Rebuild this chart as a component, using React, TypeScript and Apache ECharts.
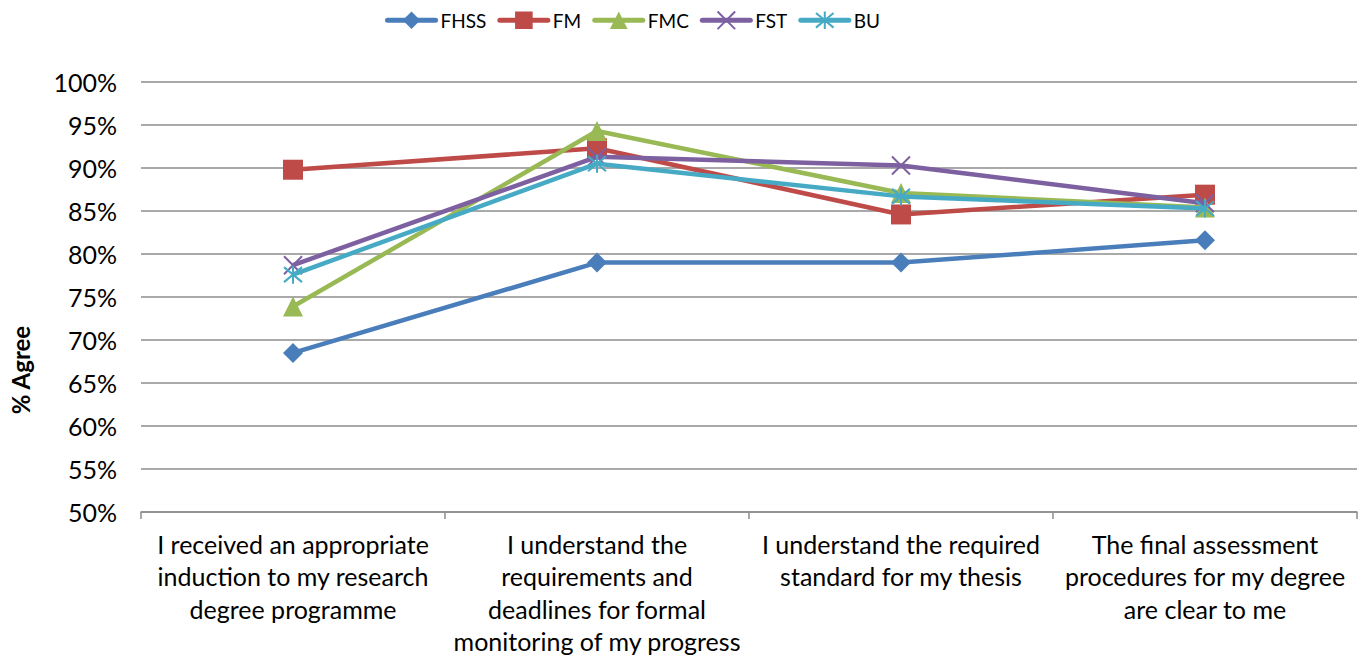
import React, { useEffect, useRef } from "react";
import * as echarts from "echarts";

const categories = [
  "I received an appropriate\ninduction to my research\ndegree programme",
  "I understand the\nrequirements and\ndeadlines for formal\nmonitoring of my progress",
  "I understand the required\nstandard for my thesis",
  "The final assessment\nprocedures for my degree\nare clear to me",
];

const seriesNames = ["FHSS", "FM", "FMC", "FST", "BU"];
const fhss = [68.5, 79.0, 79.0, 81.6];
const fm = [89.8, 92.3, 84.6, 86.9];
const fmc = [73.9, 94.3, 87.1, 85.4];
const fst = [78.7, 91.3, 90.3, 85.9];
const bu = [77.6, 90.5, 86.7, 85.3];

const yTicks = { min: 50, max: 100, step: 5 };

const colors = ["#4A7EBB", "#BE4B48", "#98B954", "#7D60A0", "#46AAC5"];

const FONT = "Lato, 'Noto Sans', sans-serif";

export default function App() {
  const ref = useRef<HTMLDivElement>(null);
  useEffect(() => {
    if (!ref.current) return;
    const chart = echarts.init(ref.current, undefined, { renderer: "svg" });
    const symbols = [
      "diamond",
      "rect",
      "triangle",
      "path://M0,0L20,20M20,0L0,20",
      "path://M0,0L20,20M20,0L0,20M10,-2L10,22",
    ];
    const sizes = [20, 20, 20, 18, 18];
    const datas = [fhss, fm, fmc, fst, bu];
    chart.setOption({
      animation: false,
      textStyle: { fontFamily: FONT },
      legend: {
        top: 9,
        left: 385,
        padding: 0,
        itemWidth: 48,
        itemHeight: 22,
        itemGap: 11,
        lineStyle: { width: 5, cap: "round" },
        textStyle: { fontSize: 19, color: "#000", fontFamily: FONT },
        data: seriesNames,
      },
      grid: { left: 141, right: 11, top: 82, bottom: 146, containLabel: false },
      xAxis: {
        type: "category",
        data: categories,
        boundaryGap: true,
        axisLine: { show: true, lineStyle: { color: "#8c8c8c", width: 1.5 } },
        axisTick: { show: true, length: 7, lineStyle: { color: "#8c8c8c", width: 1.5 } },
        axisLabel: {
          interval: 0,
          margin: 16,
          fontSize: 25,
          lineHeight: 32.3,
          color: "#000",
          fontFamily: FONT,
          align: "center",
        },
      },
      yAxis: {
        type: "value",
        min: yTicks.min,
        max: yTicks.max,
        interval: yTicks.step,
        axisLine: { show: false },
        axisTick: { show: false },
        splitLine: { show: true, lineStyle: { color: "#8c8c8c", width: 1.5 } },
        axisLabel: {
          formatter: "{value}%",
          margin: 24,
          fontSize: 25,
          color: "#000",
          fontFamily: FONT,
        },
      },
      graphic: [
        {
          type: "text",
          x: 20,
          y: 370,
          rotation: Math.PI / 2,
          style: {
            text: "% Agree",
            fontSize: 24,
            fontWeight: "bold",
            fontFamily: FONT,
            fill: "#000",
            align: "center",
            verticalAlign: "middle",
          },
        },
      ],
      series: seriesNames.map((name, i) => ({
        name,
        type: "line",
        data: datas[i],
        symbol: symbols[i],
        symbolSize: sizes[i],
        showAllSymbol: true,
        z: 2 + i,
        lineStyle: { color: colors[i], width: 4.5 },
        itemStyle:
          i >= 3
            ? { color: "none", borderColor: colors[i], borderWidth: 2 }
            : { color: colors[i], borderWidth: 0 },
        emphasis: { disabled: true },
      })),
    });
    return () => chart.dispose();
  }, []);
  return (
    <div
      ref={ref}
      style={{ position: "fixed", left: 0, top: 0, width: 1368, height: 658, background: "#fff" }}
    />
  );
}
